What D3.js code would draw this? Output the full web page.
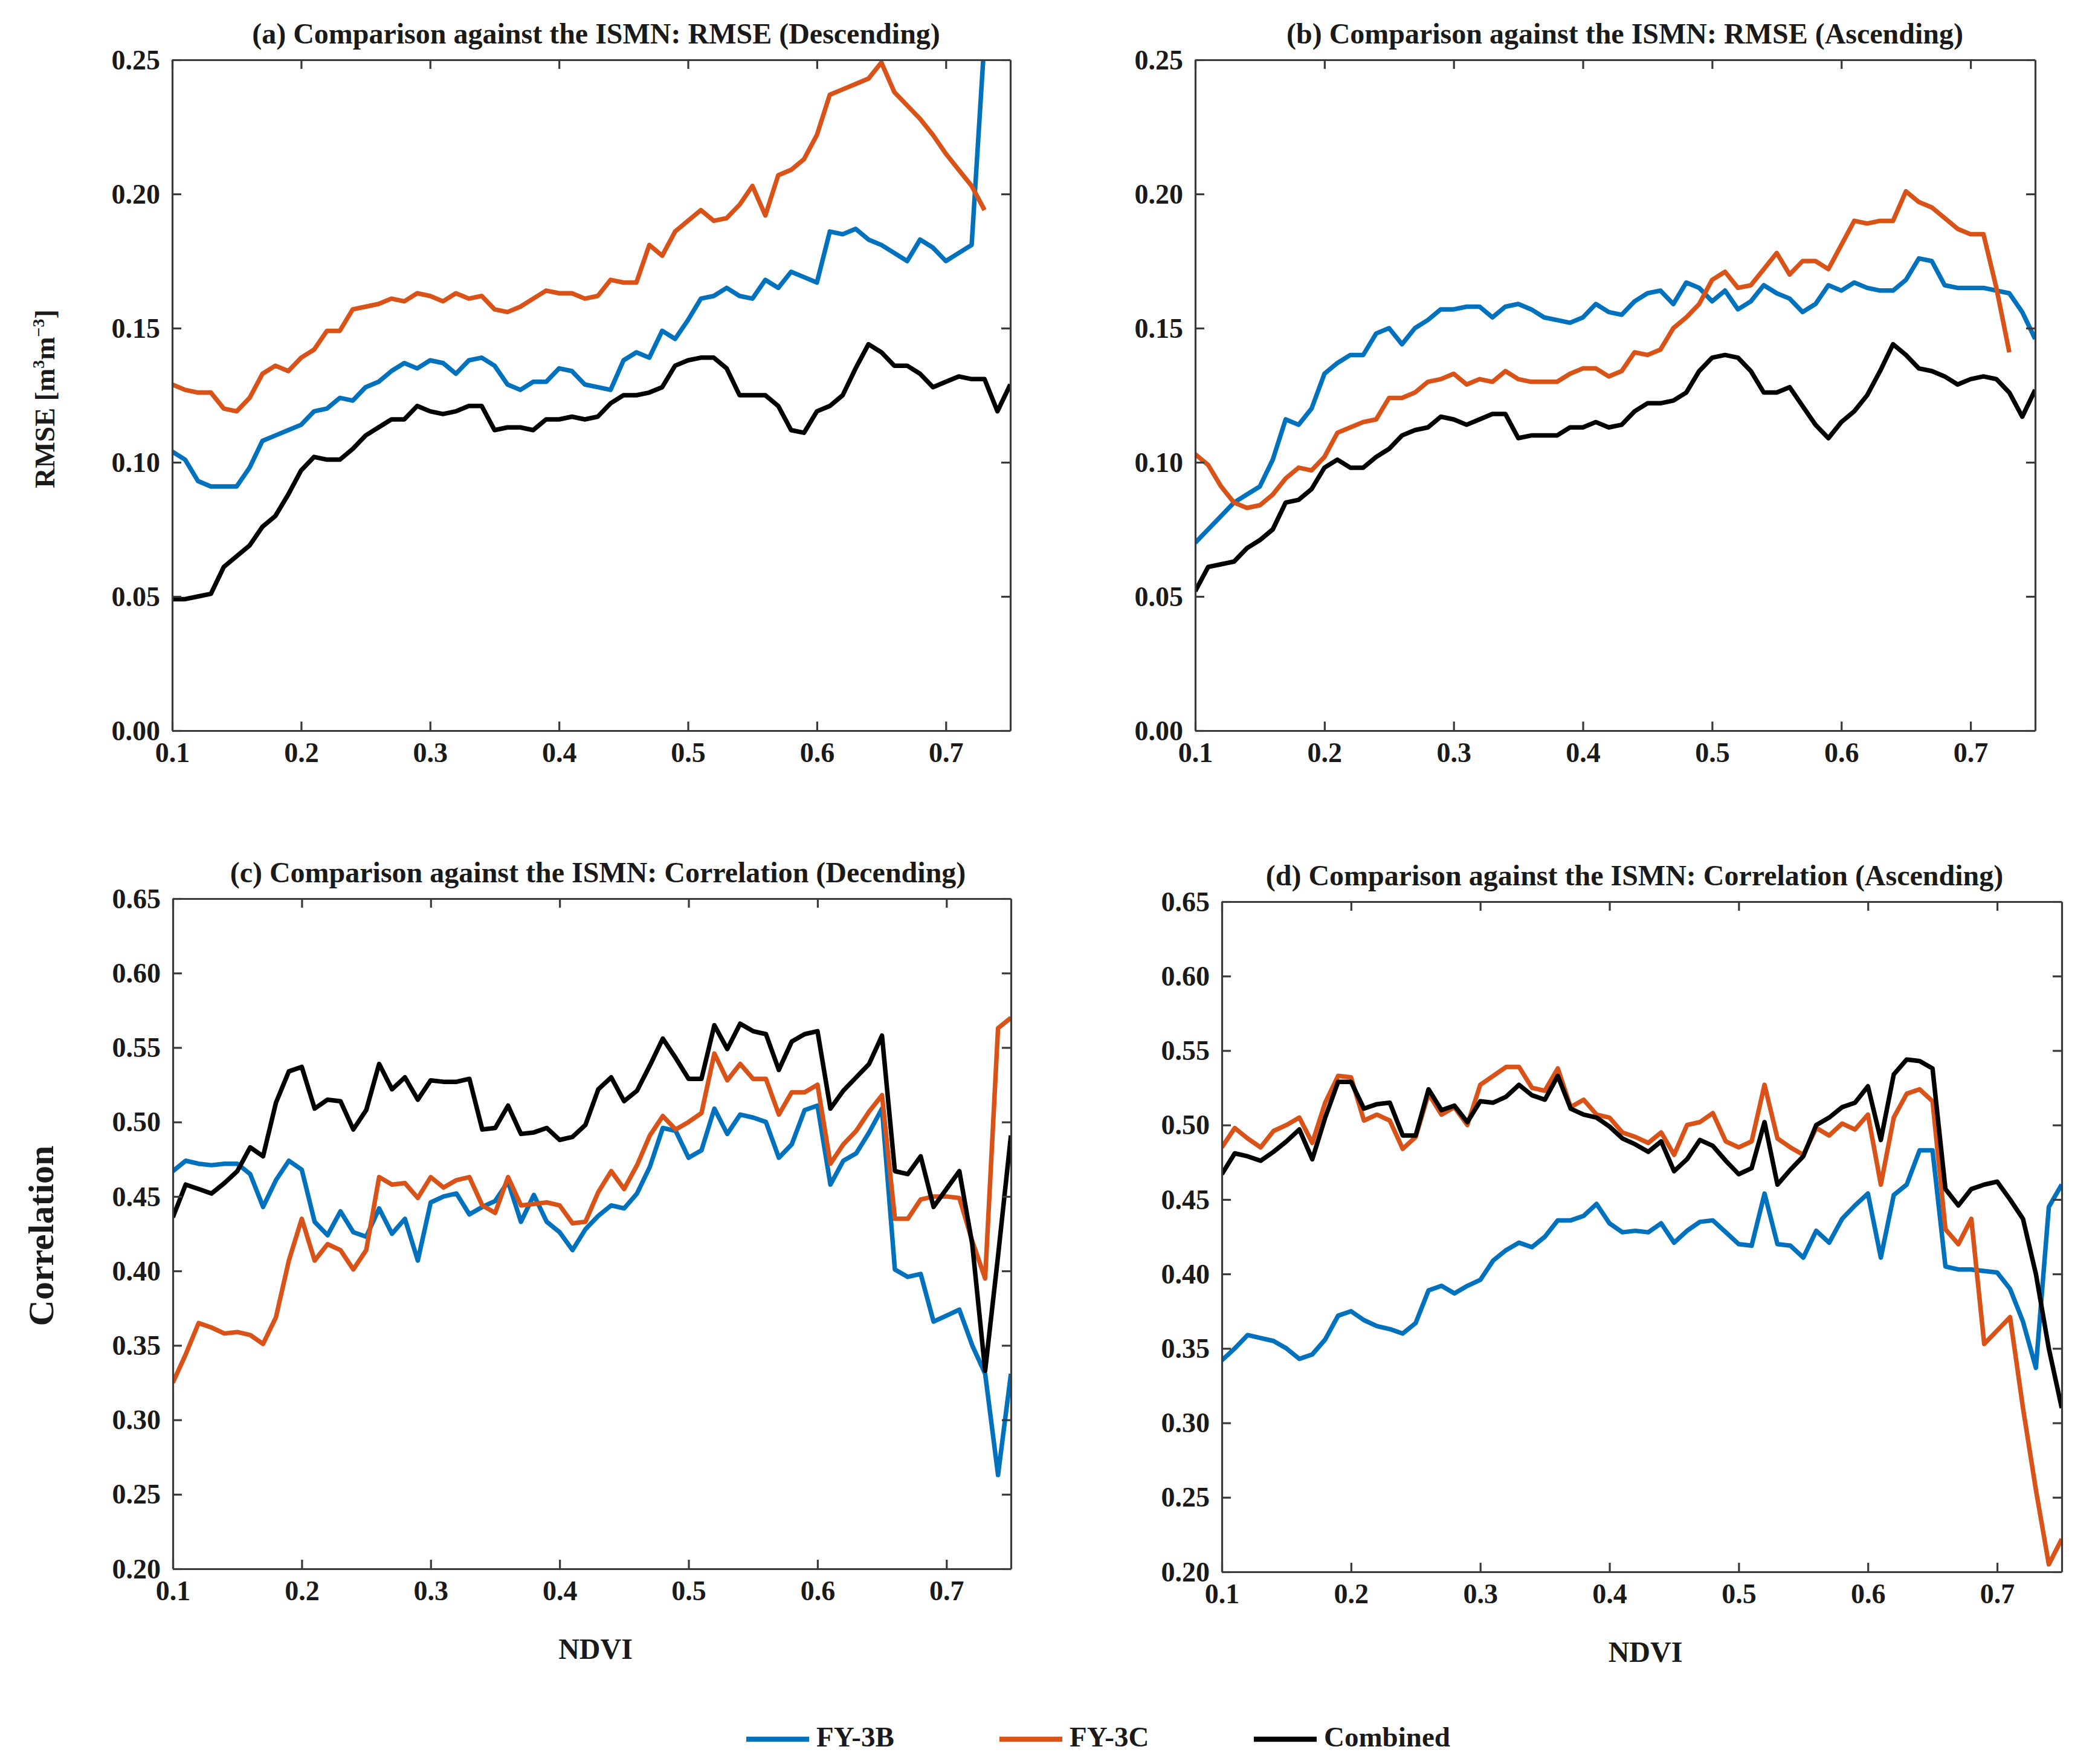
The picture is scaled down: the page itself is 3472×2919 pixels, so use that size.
<!DOCTYPE html>
<html><head><meta charset="utf-8">
<script src="https://cdn.jsdelivr.net/npm/d3@7"></script>
<style>
body{margin:0;background:#fff}
text{font-family:"Liberation Serif","Times New Roman",serif;font-weight:bold;fill:#1a1a1a}
</style>
</head><body><svg id="chart" width="3472" height="2919"></svg>
<script>
// ---------------- data ----------------
const ndvi = [0.10,0.11,0.12,0.13,0.14,0.15,0.16,0.17,0.18,0.19,
  0.20,0.21,0.22,0.23,0.24,0.25,0.26,0.27,0.28,0.29,
  0.30,0.31,0.32,0.33,0.34,0.35,0.36,0.37,0.38,0.39,
  0.40,0.41,0.42,0.43,0.44,0.45,0.46,0.47,0.48,0.49,
  0.50,0.51,0.52,0.53,0.54,0.55,0.56,0.57,0.58,0.59,
  0.60,0.61,0.62,0.63,0.64,0.65,0.66,0.67,0.68,0.69,
  0.70,0.71,0.72,0.73,0.74,0.75];
const seriesNames = ["FY-3B","FY-3C","Combined"];
const seriesColors = ["#0072BD","#D95319","#000000"];
const ndviTicks = [0.1,0.2,0.3,0.4,0.5,0.6,0.7];
const rmseTicks = [0.00,0.05,0.10,0.15,0.20,0.25];
const corrTicks = [0.20,0.25,0.30,0.35,0.40,0.45,0.50,0.55,0.60,0.65];

// (a) RMSE descending
const rmseDescFY3B = [0.104,0.101,0.093,0.091,0.091,0.091,0.098,0.108,0.110,0.112,
  0.114,0.119,0.120,0.124,0.123,0.128,0.130,0.134,0.137,0.135,
  0.138,0.137,0.133,0.138,0.139,0.136,0.129,0.127,0.130,0.130,
  0.135,0.134,0.129,0.128,0.127,0.138,0.141,0.139,0.149,0.146,
  0.153,0.161,0.162,0.165,0.162,0.161,0.168,0.165,0.171,0.169,
  0.167,0.186,0.185,0.187,0.183,0.181,0.178,0.175,0.183,0.180,
  0.175,0.178,0.181,0.258,null,null];
const rmseDescFY3C = [0.129,0.127,0.126,0.126,0.120,0.119,0.124,0.133,0.136,0.134,
  0.139,0.142,0.149,0.149,0.157,0.158,0.159,0.161,0.160,0.163,
  0.162,0.160,0.163,0.161,0.162,0.157,0.156,0.158,0.161,0.164,
  0.163,0.163,0.161,0.162,0.168,0.167,0.167,0.181,0.177,0.186,
  0.190,0.194,0.190,0.191,0.196,0.203,0.192,0.207,0.209,0.213,
  0.222,0.237,0.239,0.241,0.243,0.249,0.238,0.233,0.228,0.222,
  0.215,0.209,0.203,0.194,null,null];
const rmseDescComb = [0.049,0.049,0.050,0.051,0.061,0.065,0.069,0.076,0.080,0.088,
  0.097,0.102,0.101,0.101,0.105,0.110,0.113,0.116,0.116,0.121,
  0.119,0.118,0.119,0.121,0.121,0.112,0.113,0.113,0.112,0.116,
  0.116,0.117,0.116,0.117,0.122,0.125,0.125,0.126,0.128,0.136,
  0.138,0.139,0.139,0.135,0.125,0.125,0.125,0.121,0.112,0.111,
  0.119,0.121,0.125,0.135,0.144,0.141,0.136,0.136,0.133,0.128,
  0.130,0.132,0.131,0.131,0.119,0.129];

// (b) RMSE ascending
const rmseAscFY3B = [0.070,0.075,0.080,0.085,0.088,0.091,0.101,0.116,0.114,0.120,
  0.133,0.137,0.140,0.140,0.148,0.150,0.144,0.150,0.153,0.157,
  0.157,0.158,0.158,0.154,0.158,0.159,0.157,0.154,0.153,0.152,
  0.154,0.159,0.156,0.155,0.160,0.163,0.164,0.159,0.167,0.165,
  0.160,0.164,0.157,0.160,0.166,0.163,0.161,0.156,0.159,0.166,
  0.164,0.167,0.165,0.164,0.164,0.168,0.176,0.175,0.166,0.165,
  0.165,0.165,0.164,0.163,0.156,0.146];
const rmseAscFY3C = [0.103,0.099,0.091,0.085,0.083,0.084,0.088,0.094,0.098,0.097,
  0.102,0.111,0.113,0.115,0.116,0.124,0.124,0.126,0.130,0.131,
  0.133,0.129,0.131,0.130,0.134,0.131,0.130,0.130,0.130,0.133,
  0.135,0.135,0.132,0.134,0.141,0.140,0.142,0.150,0.154,0.159,
  0.168,0.171,0.165,0.166,0.172,0.178,0.170,0.175,0.175,0.172,
  0.181,0.190,0.189,0.190,0.190,0.201,0.197,0.195,0.191,0.187,
  0.185,0.185,0.165,0.141,null,null];
const rmseAscComb = [0.052,0.061,0.062,0.063,0.068,0.071,0.075,0.085,0.086,0.090,
  0.098,0.101,0.098,0.098,0.102,0.105,0.110,0.112,0.113,0.117,
  0.116,0.114,0.116,0.118,0.118,0.109,0.110,0.110,0.110,0.113,
  0.113,0.115,0.113,0.114,0.119,0.122,0.122,0.123,0.126,0.134,
  0.139,0.140,0.139,0.134,0.126,0.126,0.128,0.121,0.114,0.109,
  0.115,0.119,0.125,0.134,0.144,0.140,0.135,0.134,0.132,0.129,
  0.131,0.132,0.131,0.126,0.117,0.127];

// (c) Correlation descending
const corrDescFY3B = [0.467,0.474,0.472,0.471,0.472,0.472,0.465,0.443,0.461,0.474,
  0.468,0.433,0.424,0.440,0.426,0.423,0.442,0.425,0.435,0.407,
  0.446,0.450,0.452,0.438,0.443,0.447,0.460,0.433,0.451,0.433,
  0.426,0.414,0.428,0.437,0.444,0.442,0.452,0.470,0.496,0.494,
  0.476,0.481,0.509,0.492,0.505,0.503,0.500,0.476,0.485,0.508,
  0.511,0.458,0.474,0.479,0.493,0.509,0.401,0.396,0.398,0.366,
  0.370,0.374,0.350,0.331,0.263,0.331];
const corrDescFY3C = [0.325,0.344,0.365,0.362,0.358,0.359,0.357,0.351,0.369,0.407,
  0.435,0.407,0.418,0.414,0.401,0.414,0.463,0.458,0.459,0.449,
  0.463,0.456,0.461,0.463,0.444,0.439,0.463,0.444,0.445,0.446,
  0.444,0.432,0.433,0.453,0.467,0.455,0.471,0.491,0.504,0.495,
  0.500,0.506,0.546,0.528,0.539,0.529,0.529,0.505,0.520,0.520,
  0.525,0.472,0.485,0.494,0.507,0.518,0.435,0.435,0.448,0.450,
  0.450,0.449,0.420,0.395,0.563,0.570];
const corrDescComb = [0.436,0.458,0.455,0.452,0.459,0.467,0.483,0.477,0.513,0.534,
  0.537,0.509,0.515,0.514,0.495,0.508,0.539,0.522,0.530,0.515,
  0.528,0.527,0.527,0.529,0.495,0.496,0.511,0.492,0.493,0.496,
  0.488,0.490,0.498,0.522,0.530,0.514,0.521,0.538,0.556,0.543,
  0.529,0.529,0.565,0.549,0.566,0.561,0.559,0.535,0.554,0.559,
  0.561,0.509,0.521,0.530,0.539,0.558,0.467,0.465,0.477,0.443,
  0.455,0.467,0.418,0.333,0.410,0.491];

// (d) Correlation ascending
const corrAscFY3B = [0.342,0.350,0.359,0.357,0.355,0.350,0.343,0.346,0.356,0.372,
  0.375,0.369,0.365,0.363,0.360,0.367,0.389,0.392,0.387,0.392,
  0.396,0.409,0.416,0.421,0.418,0.425,0.436,0.436,0.439,0.447,
  0.434,0.428,0.429,0.428,0.434,0.421,0.429,0.435,0.436,0.428,
  0.420,0.419,0.454,0.420,0.419,0.411,0.429,0.421,0.437,0.446,
  0.454,0.411,0.453,0.460,0.483,0.483,0.405,0.403,0.403,0.402,
  0.401,0.390,0.368,0.337,0.445,0.460];
const corrAscFY3C = [0.485,0.498,0.491,0.485,0.496,0.500,0.505,0.488,0.515,0.533,
  0.532,0.503,0.507,0.503,0.484,0.492,0.521,0.507,0.512,0.500,
  0.527,0.533,0.539,0.539,0.525,0.523,0.538,0.512,0.517,0.507,
  0.505,0.495,0.492,0.488,0.495,0.480,0.500,0.502,0.508,0.489,
  0.485,0.489,0.527,0.491,0.485,0.480,0.498,0.493,0.501,0.497,
  0.507,0.460,0.505,0.521,0.524,0.516,0.430,0.420,0.437,0.353,
  0.362,0.371,0.310,0.255,0.205,0.222];
const corrAscComb = [0.467,0.481,0.479,0.476,0.482,0.489,0.497,0.477,0.505,0.529,
  0.529,0.511,0.514,0.515,0.493,0.493,0.524,0.510,0.513,0.502,
  0.516,0.515,0.519,0.527,0.520,0.517,0.533,0.511,0.507,0.505,
  0.499,0.491,0.487,0.482,0.489,0.469,0.477,0.490,0.486,0.476,
  0.467,0.471,0.502,0.460,0.470,0.479,0.500,0.505,0.512,0.515,
  0.526,0.490,0.534,0.544,0.543,0.538,0.457,0.446,0.457,0.460,
  0.462,0.450,0.437,0.400,0.350,0.310];

const titles = [
  "(a) Comparison against the ISMN: RMSE (Descending)",
  "(b) Comparison against the ISMN: RMSE (Ascending)",
  "(c) Comparison against the ISMN: Correlation (Decending)",
  "(d) Comparison against the ISMN: Correlation (Ascending)"
];

// ---------------- layout ----------------
const panels = [
  {title:titles[0], box:[285,99,1672,1209], yDomain:[0,0.25], yTicks:rmseTicks,
   series:[rmseDescFY3B,rmseDescFY3C,rmseDescComb], xlabel:false, tdx:8},
  {title:titles[1], box:[1978,99,3368,1209], yDomain:[0,0.25], yTicks:rmseTicks,
   series:[rmseAscFY3B,rmseAscFY3C,rmseAscComb], xlabel:false, tdx:16},
  {title:titles[2], box:[286,1487,1673,2596], yDomain:[0.2,0.65], yTicks:corrTicks,
   series:[corrDescFY3B,corrDescFY3C,corrDescComb], xlabel:true, tdx:10},
  {title:titles[3], box:[2022,1492,3412,2601], yDomain:[0.2,0.65], yTicks:corrTicks,
   series:[corrAscFY3B,corrAscFY3C,corrAscComb], xlabel:true, tdx:-12}
];

const svg = d3.select("#chart");
const defs = svg.append("defs");
const axisColor = "#3a3a3a";
const tickFont = 46;

panels.forEach((p,i) => {
  const [x0,y0,x1,y1] = p.box;
  const x = d3.scaleLinear().domain([0.1,0.75]).range([x0,x1]);
  const y = d3.scaleLinear().domain(p.yDomain).range([y1,y0]);
  const g = svg.append("g");

  defs.append("clipPath").attr("id","clip"+i)
    .append("rect").attr("x",x0).attr("y",y0).attr("width",x1-x0).attr("height",y1-y0);

  const line = d3.line().defined(d => d[1] !== null).x(d => x(d[0])).y(d => y(d[1]));
  p.series.forEach((vals,k) => {
    g.append("path")
      .datum(ndvi.map((n,j) => [n, vals[j]]))
      .attr("d", line)
      .attr("fill","none")
      .attr("stroke", seriesColors[k])
      .attr("stroke-width", 7.5)
      .attr("stroke-linejoin","round")
      .attr("stroke-linecap","butt")
      .attr("clip-path", `url(#clip${i})`);
  });

  const fmtX = d3.format(".1f"), fmtY = d3.format(".2f");
  const bottom = g.append("g").attr("transform",`translate(0,${y1})`)
    .call(d3.axisBottom(x).tickValues(ndviTicks).tickSize(-15).tickSizeOuter(0).tickPadding(19).tickFormat(fmtX));
  const left = g.append("g").attr("transform",`translate(${x0},0)`)
    .call(d3.axisLeft(y).tickValues(p.yTicks).tickSize(-15).tickSizeOuter(0).tickPadding(20).tickFormat(fmtY));
  const top = g.append("g").attr("transform",`translate(0,${y0})`)
    .call(d3.axisTop(x).tickValues(ndviTicks).tickSize(-15).tickSizeOuter(0).tickFormat(""));
  const right = g.append("g").attr("transform",`translate(${x1},0)`)
    .call(d3.axisRight(y).tickValues(p.yTicks).tickSize(-15).tickSizeOuter(0).tickFormat(""));

  [bottom,left,top,right].forEach(a => {
    a.select(".domain").attr("stroke",axisColor).attr("stroke-width",3.2);
    a.selectAll(".tick line").attr("stroke",axisColor).attr("stroke-width",3.2);
    a.selectAll(".tick text").attr("font-size",tickFont)
      .attr("font-family",'"Liberation Serif","Times New Roman",serif')
      .attr("font-weight","bold").attr("fill","#1a1a1a");
  });
  left.selectAll(".tick text").attr("dy","0.33em");

  g.append("text")
    .attr("x",(x0+x1)/2 + p.tdx).attr("y",y0-27)
    .attr("text-anchor","middle").attr("font-size",48)
    .text(p.title);

  if (p.xlabel) {
    g.append("text")
      .attr("x",(x0+x1)/2 + 6).attr("y",y1+149)
      .attr("text-anchor","middle").attr("font-size",48)
      .text("NDVI");
  }
});

// y-axis titles
const rm = svg.append("text")
  .attr("transform","translate(90,660) rotate(-90)")
  .attr("text-anchor","middle").attr("font-size",46);
rm.append("tspan").text("RMSE [m");
rm.append("tspan").attr("font-size",28).attr("dy",-17).text("3");
rm.append("tspan").attr("dy",17).text("m");
rm.append("tspan").attr("font-size",28).attr("dy",-17).text("\u22123");
rm.append("tspan").attr("dy",17).text("]");

svg.append("text")
  .attr("transform","translate(88,2045) rotate(-90)")
  .attr("text-anchor","middle").attr("font-size",60)
  .text("Correlation");

// legend
const legendX = [1235,1654,2075];
const leg = svg.append("g");
seriesNames.forEach((name,k) => {
  leg.append("line")
    .attr("x1",legendX[k]).attr("x2",legendX[k]+104)
    .attr("y1",2878).attr("y2",2878)
    .attr("stroke",seriesColors[k]).attr("stroke-width",8.5);
  leg.append("text")
    .attr("x",legendX[k]+116).attr("y",2890)
    .attr("font-size",47)
    .text(name);
});
</script>
</body></html>
